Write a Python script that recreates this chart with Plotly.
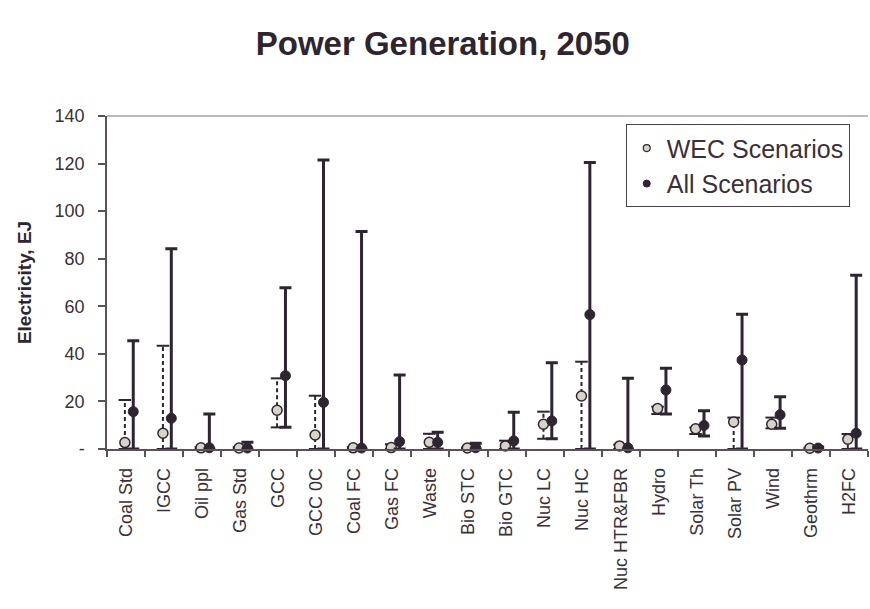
import plotly.graph_objects as go

categories = ["Coal Std", "IGCC", "Oil ppl", "Gas Std", "GCC", "GCC 0C", "Coal FC", "Gas FC",
              "Waste", "Bio STC", "Bio GTC", "Nuc LC", "Nuc HC", "Nuc HTR&FBR", "Hydro",
              "Solar Th", "Solar PV", "Wind", "Geothrm", "H2FC"]

wec_mid = [2.7, 6.6, 0.5, 0.4, 16.3, 5.9, 0.5, 0.6, 2.8, 0.4, 1.3, 10.4, 22.3, 1.3, 17.0, 8.5, 11.4, 10.4, 0.3, 4.1]
wec_min = [0, 0, 0, 0, 9.1, 0, 0, 0, 0, 0, 0, 4.3, 0, 0, 14.7, 6.3, 0, 8.7, 0, 0]
wec_max = [20.6, 43.4, 0.8, 0.8, 29.7, 22.4, 0.8, 2.0, 6.4, 0.6, 3.5, 15.7, 36.7, 1.8, 17.8, 9.0, 13.2, 13.2, 0.5, 6.3]

all_mid = [15.7, 12.9, 0.5, 0.4, 30.8, 19.6, 0.4, 3.1, 2.8, 0.5, 3.4, 11.8, 56.5, 0.5, 24.8, 9.9, 37.4, 14.4, 0.4, 6.6]
all_min = [0, 0, 0, 0, 9.1, 0, 0, 0, 0, 0, 0, 4.3, 0, 0, 14.7, 5.5, 0, 8.7, 0, 0]
all_max = [45.5, 84.2, 14.7, 2.8, 67.8, 121.5, 91.4, 31.1, 7.0, 2.4, 15.4, 36.3, 120.4, 29.7, 33.9, 16.1, 56.7, 22.0, 0.8, 73.1]

y_ticks = [0, 20, 40, 60, 80, 100, 120, 140]
y_ticktext = ["-", "20", "40", "60", "80", "100", "120", "140"]

DARK = "#2e2530"
LIGHT = "#d8d3c8"
AXIS = "#5a5258"
FONT = "Liberation Sans, Arial, sans-serif"

n = len(categories)
wec_x = [i - 0.03 for i in range(n)]
all_x = [i + 0.19 for i in range(n)]

# dotted WEC range lines
lx, ly = [], []
for x, lo, hi in zip(wec_x, wec_min, wec_max):
    lx += [x, x, None]
    ly += [lo, hi, None]

fig = go.Figure()
fig.add_trace(go.Scatter(x=lx, y=ly, mode="lines", line=dict(color=DARK, width=2, dash="4px,3px"),
                         showlegend=False, hoverinfo="skip", cliponaxis=False))
fig.add_trace(go.Scatter(x=wec_x + wec_x, y=wec_min + wec_max, mode="markers",
                         marker=dict(symbol="line-ew", size=9, line=dict(color=DARK, width=2)),
                         showlegend=False, hoverinfo="skip", cliponaxis=False))
fig.add_trace(go.Scatter(x=wec_x, y=wec_mid, mode="markers", name="WEC Scenarios",
                         marker=dict(symbol="circle", size=10, color=LIGHT, line=dict(color=DARK, width=1.5)),
                         showlegend=False, cliponaxis=False))
fig.add_trace(go.Scatter(x=all_x, y=all_mid, mode="markers", name="All Scenarios",
                         marker=dict(symbol="circle", size=10, color=DARK, line=dict(color=DARK, width=1)),
                         error_y=dict(type="data", symmetric=False,
                                      array=[h - m for h, m in zip(all_max, all_mid)],
                                      arrayminus=[m - l for m, l in zip(all_mid, all_min)],
                                      color=DARK, thickness=3, width=6),
                         showlegend=False, cliponaxis=False))
# legend entries (smaller symbols, as in the original legend)
fig.add_trace(go.Scatter(x=[None], y=[None], mode="markers", name="WEC Scenarios",
                         marker=dict(symbol="circle", size=7, color=LIGHT, line=dict(color=DARK, width=1.2))))
fig.add_trace(go.Scatter(x=[None], y=[None], mode="markers", name="All Scenarios",
                         marker=dict(symbol="circle", size=7, color=DARK, line=dict(color=DARK, width=1))))

fig.update_layout(
    width=870, height=609,
    margin=dict(l=107, r=2, t=116, b=160, autoexpand=False),
    paper_bgcolor="white", plot_bgcolor="white",
    font=dict(family=FONT, color="#3a3038", size=18),
    title=dict(text="<b>Power Generation, 2050</b>", x=0.509, xanchor="center",
               y=1 - 43 / 609, yanchor="middle", yref="container",
               font=dict(size=33, color=DARK, family=FONT)),
    showlegend=True,
    legend=dict(x=0.976, xanchor="right", y=0.975, yanchor="top",
                bgcolor="white", bordercolor="#4a4248", borderwidth=1,
                font=dict(size=25, color="#3a3038", family=FONT),
                itemsizing="trace", tracegroupgap=0, itemwidth=30),
    xaxis=dict(range=[-0.5, n - 0.5], tickmode="array", tickvals=list(range(n)), ticktext=categories,
               tickangle=-90, ticks="", showgrid=False, zeroline=False, automargin=False,
               showline=True, linecolor=AXIS, linewidth=1.5,
               ticklabelstandoff=10,
               minor=dict(tickmode="linear", tick0=-0.5, dtick=1, ticks="outside", ticklen=6,
                          tickcolor=AXIS, tickwidth=1.5, showgrid=False),
               tickfont=dict(size=18)),
    yaxis=dict(range=[0, 140], tickmode="array", tickvals=y_ticks, ticktext=y_ticktext,
               ticks="outside", ticklen=7, tickcolor=AXIS, tickwidth=1.5, automargin=False,
               showgrid=False, zeroline=False, showline=True, linecolor=AXIS, linewidth=1.5,
               ticklabelstandoff=10,
               title=dict(text="<b>Electricity, EJ</b>", standoff=18,
                          font=dict(size=19, color=DARK, family=FONT)),
               tickfont=dict(size=18)),
    shapes=[dict(type="line", xref="paper", yref="paper", x0=0, x1=1, y0=1, y1=1,
                 line=dict(color="#a8a2a0", width=1.5))],
)

fig.write_html("out.html", config={"displayModeBar": False},
               post_script="document.body.style.margin='0';document.body.style.overflow='hidden';")
